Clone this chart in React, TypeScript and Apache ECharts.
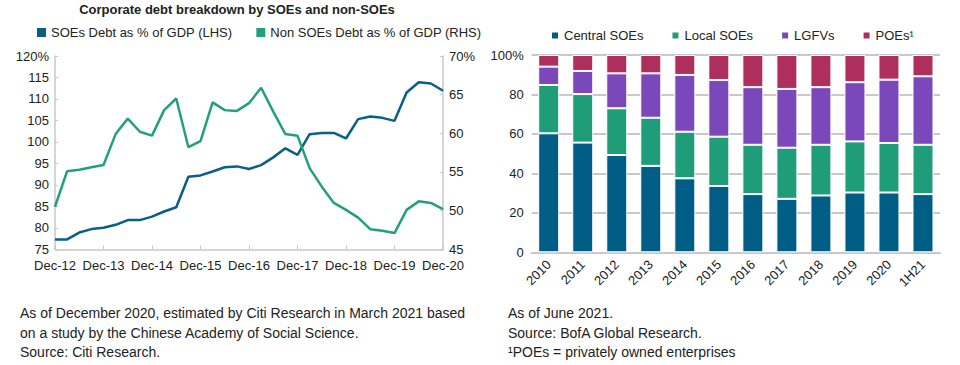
import React, { useEffect, useRef } from "react";
import * as echarts from "echarts";

const lineCategories: string[] = [];
const years = ["12", "13", "14", "15", "16", "17", "18", "19", "20"];
const quarterMonths = ["Mar", "Jun", "Sep", "Dec"];
// quarterly from Dec-12 to Dec-20
lineCategories.push("Dec-12");
for (let i = 1; i < years.length; i++) {
  for (const m of quarterMonths) lineCategories.push(`${m}-${years[i]}`);
}

const soeDebt = [77.3, 77.3, 78.9, 79.7, 80.0, 80.7, 81.8, 81.8, 82.6, 83.8, 84.8, 91.9, 92.2, 93.1, 94.1, 94.3, 93.7, 94.6, 96.4, 98.5, 97.0, 101.8, 102.1, 102.1, 100.8, 105.3, 105.9, 105.6, 104.9, 111.5, 113.9, 113.6, 111.9];
const nonSoeDebt = [50.5, 55.1, 55.3, 55.6, 55.9, 59.9, 61.9, 60.2, 59.7, 63.0, 64.5, 58.2, 59.0, 64.0, 63.0, 62.9, 63.9, 65.9, 62.8, 59.9, 59.7, 55.5, 53.1, 51.0, 50.1, 49.1, 47.6, 47.4, 47.1, 50.1, 51.2, 51.0, 50.2];

const barCategories = ["2010", "2011", "2012", "2013", "2014", "2015", "2016", "2017", "2018", "2019", "2020", "1H21"];
const centralSOEs = [60.3, 55.6, 49.3, 43.8, 37.5, 33.6, 29.5, 27.1, 28.8, 30.3, 30.3, 29.5];
const localSOEs = [24.5, 24.6, 23.7, 24.4, 23.6, 25.0, 25.0, 25.9, 25.7, 25.9, 25.1, 25.0];
const lgfvs = [9.3, 11.7, 17.7, 22.5, 28.8, 28.7, 29.2, 29.8, 29.2, 30.0, 32.1, 34.7];
const poes = [5.9, 8.1, 9.3, 9.3, 10.1, 12.7, 16.3, 17.2, 16.3, 13.8, 12.5, 10.8];

const FONT = "Liberation Sans, Arial, Helvetica, sans-serif";
const TXT = "#222";
const BLUE = "#0a5e88";
const GREEN = "#22a07b";
const C_CENTRAL = "#005e86";
const C_LOCAL = "#1f9d79";
const C_LGFV = "#7a48ba";
const C_POE = "#ae2f5c";

export default function App() {
  const ref = useRef<HTMLDivElement>(null);
  useEffect(() => {
    if (!ref.current) return;
    const chart = echarts.init(ref.current, undefined, { renderer: "svg" });
    const footStyle = { fontSize: 14, fill: TXT, fontFamily: FONT };
    const foot = (x: number, y: number, text: string) => ({
      type: "text",
      x,
      y,
      style: { ...footStyle, text, verticalAlign: "middle", align: "left" },
    });
    const barItem = (c: string) => ({ color: c, borderColor: "#fff", borderWidth: 1 });
    chart.setOption({
      animation: false,
      textStyle: { fontFamily: FONT, color: TXT },
      legend: [
        {
          left: 32,
          top: 21,
          itemWidth: 9,
          itemHeight: 9,
          itemGap: 24,
          icon: "rect",
          textStyle: { fontSize: 13, color: TXT, fontFamily: FONT },
          data: ["SOEs Debt as % of GDP (LHS)", "Non SOEs Debt as % of GDP (RHS)"],
        },
        {
          left: 545,
          top: 24,
          itemWidth: 8,
          itemHeight: 8,
          itemGap: 27,
          icon: "rect",
          textStyle: { fontSize: 13, color: TXT, fontFamily: FONT },
          data: ["Central SOEs", "Local SOEs", "LGFVs", "POEs¹"],
        },
      ],
      graphic: [
        {
          type: "text",
          x: 237,
          y: 9,
          style: {
            text: "Corporate debt breakdown by SOEs and non-SOEs",
            fontSize: 13,
            fontWeight: "bold",
            fill: TXT,
            fontFamily: FONT,
            align: "center",
            verticalAlign: "middle",
          },
        },
        foot(20, 313, "As of December 2020, estimated by Citi Research in March 2021 based"),
        foot(20, 333, "on a study by the Chinese Academy of Social Science."),
        foot(20, 352, "Source: Citi Research."),
        foot(508, 313, "As of June 2021."),
        foot(508, 333, "Source: BofA Global Research."),
        foot(508, 352, "¹POEs = privately owned enterprises"),
      ],
      grid: [
        { left: 55, right: 517, top: 56, bottom: 115.7 },
        { left: 531.7, right: 20, top: 55, bottom: 112.7 },
      ],
      xAxis: [
        {
          gridIndex: 0,
          type: "category",
          data: lineCategories,
          boundaryGap: false,
          axisLine: { lineStyle: { color: "#c8c8c8", width: 1.5 } },
          axisTick: { inside: true, interval: 3, length: 4, lineStyle: { color: "#c8c8c8" } },
          axisLabel: { interval: 3, fontSize: 13, color: TXT, margin: 10 },
          splitLine: { show: false },
        },
        {
          gridIndex: 1,
          type: "category",
          data: barCategories,
          axisLine: { lineStyle: { color: "#c8c8c8", width: 2 } },
          axisTick: { show: false },
          axisLabel: { rotate: 45, fontSize: 13, color: TXT, margin: 10, interval: 0 },
        },
      ],
      yAxis: [
        {
          gridIndex: 0,
          type: "value",
          min: 75,
          max: 120,
          interval: 5,
          axisLine: { show: true, lineStyle: { color: "#c8c8c8", width: 1.5 } },
          axisTick: { show: true, inside: true, length: 3, lineStyle: { color: "#c8c8c8" } },
          axisLabel: {
            fontSize: 13,
            color: TXT,
            margin: 6,
            formatter: (v: number) => (v === 120 ? "120%" : String(v)),
          },
          splitLine: { show: false },
        },
        {
          gridIndex: 0,
          type: "value",
          position: "right",
          min: 45,
          max: 70,
          interval: 5,
          axisLine: { show: true, lineStyle: { color: "#c8c8c8", width: 1.5 } },
          axisTick: { show: true, inside: true, length: 3, lineStyle: { color: "#c8c8c8" } },
          axisLabel: {
            fontSize: 13,
            color: TXT,
            margin: 6,
            formatter: (v: number) => (v === 70 ? "70%" : String(v)),
          },
          splitLine: { show: false },
        },
        {
          gridIndex: 1,
          type: "value",
          min: 0,
          max: 100,
          interval: 20,
          axisLine: { show: false },
          axisTick: { show: false },
          axisLabel: {
            fontSize: 13,
            color: TXT,
            margin: 8,
            formatter: (v: number) => (v === 100 ? "100%" : String(v)),
          },
          splitLine: { show: true, lineStyle: { color: "#c8c8c8", width: 2 } },
        },
      ],
      series: [
        {
          name: "SOEs Debt as % of GDP (LHS)",
          type: "line",
          xAxisIndex: 0,
          yAxisIndex: 0,
          data: soeDebt,
          symbol: "none",
          color: BLUE,
          lineStyle: { color: BLUE, width: 2.5 },
        },
        {
          name: "Non SOEs Debt as % of GDP (RHS)",
          type: "line",
          xAxisIndex: 0,
          yAxisIndex: 1,
          data: nonSoeDebt,
          symbol: "none",
          color: GREEN,
          lineStyle: { color: GREEN, width: 2.5 },
        },
        {
          name: "Central SOEs",
          type: "bar",
          stack: "s",
          xAxisIndex: 1,
          yAxisIndex: 2,
          barWidth: 21,
          data: centralSOEs,
          color: C_CENTRAL,
          itemStyle: barItem(C_CENTRAL),
        },
        {
          name: "Local SOEs",
          type: "bar",
          stack: "s",
          xAxisIndex: 1,
          yAxisIndex: 2,
          barWidth: 21,
          data: localSOEs,
          color: C_LOCAL,
          itemStyle: barItem(C_LOCAL),
        },
        {
          name: "LGFVs",
          type: "bar",
          stack: "s",
          xAxisIndex: 1,
          yAxisIndex: 2,
          barWidth: 21,
          data: lgfvs,
          color: C_LGFV,
          itemStyle: barItem(C_LGFV),
        },
        {
          name: "POEs¹",
          type: "bar",
          stack: "s",
          xAxisIndex: 1,
          yAxisIndex: 2,
          barWidth: 21,
          data: poes,
          color: C_POE,
          itemStyle: barItem(C_POE),
        },
      ],
    });
    return () => chart.dispose();
  }, []);
  return (
    <div
      ref={ref}
      style={{ position: "absolute", left: 0, top: 0, width: 960, height: 365, background: "#fff" }}
    />
  );
}
